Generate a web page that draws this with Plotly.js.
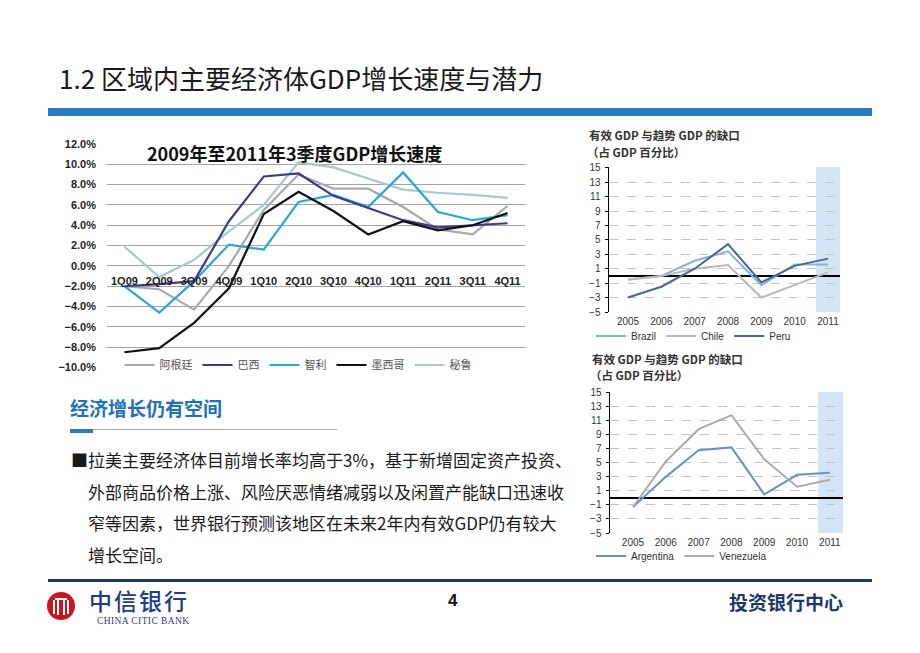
<!DOCTYPE html>
<html><head><meta charset="utf-8">
<script src="https://cdn.plot.ly/plotly-3.0.1.min.js"></script>
<style>
body{margin:0;background:#fff;font-family:"Noto Sans CJK SC",sans-serif;}
#wrap{position:relative;width:920px;height:653px;overflow:hidden;background:#fff;}
#chart{position:absolute;left:0;top:0;width:920px;height:653px;}
.t{position:absolute;white-space:nowrap;}
.p{position:absolute;white-space:nowrap;font-size:17px;line-height:24px;color:#1a1a1a;left:71px;}
</style></head><body>
<div id="wrap">
<div class="t" style="left:59px;top:60px;font-size:26px;line-height:36px;color:#1a1a1a;">1.2 区域内主要经济体GDP增长速度与潜力</div>
<div style="position:absolute;left:48px;top:108px;width:824px;height:8px;background:#2a7ac6;"></div>
<div class="t" style="left:70px;top:396px;font-size:19px;line-height:24px;font-weight:bold;color:#2070c0;">经济增长仍有空间</div>
<div style="position:absolute;left:70px;top:429px;width:267px;height:1px;background:#a8a8a8;"></div>
<div style="position:absolute;left:70px;top:429px;width:23px;height:4px;background:#2a7ac6;"></div>
<div class="p" style="top:448px;">■拉美主要经济体目前增长率均高于3%，基于新增固定资产投资、</div>
<div class="p" style="top:480px;left:88px;">外部商品价格上涨、风险厌恶情绪减弱以及闲置产能缺口迅速收</div>
<div class="p" style="top:511px;left:88px;">窄等因素，世界银行预测该地区在未来2年内有效GDP仍有较大</div>
<div class="p" style="top:543px;left:88px;">增长空间。</div>
<div style="position:absolute;left:48px;top:579px;width:824px;height:3px;background:#1f3866;"></div>
<svg style="position:absolute;left:47px;top:592px;" width="28" height="28" viewBox="0 0 28 28">
<circle cx="14" cy="14" r="14" fill="#c8161d"/>
<rect x="6" y="8" width="2" height="14" fill="#fff"/>
<rect x="10" y="6" width="2" height="17" fill="#fff"/>
<rect x="16" y="6" width="2" height="17" fill="#fff"/>
<rect x="20" y="8" width="2" height="14" fill="#fff"/>
<rect x="8" y="6" width="12" height="2" fill="#fff"/>
</svg>
<div class="t" style="left:89px;top:589px;font-size:23px;line-height:23px;color:#1f3c8c;font-weight:500;letter-spacing:2px;">中信银行</div>
<div class="t" style="left:97px;top:616px;font-size:9.5px;line-height:10px;color:#1f3c8c;font-family:'Liberation Serif',serif;letter-spacing:0.4px;">CHINA CITIC BANK</div>
<div class="t" style="left:448px;top:590px;font-size:17px;line-height:22px;font-weight:bold;color:#111;font-family:'Liberation Sans',sans-serif;">4</div>
<div class="t" style="left:729px;top:590px;font-size:19px;line-height:24px;font-weight:bold;color:#1b3a6b;">投资银行中心</div>
<div id="chart"></div>
</div>
<script>
// ---- main chart data ----
const quarters = ['1Q09','2Q09','3Q09','4Q09','1Q10','2Q10','3Q10','4Q10','1Q11','2Q11','3Q11','4Q11'];
const argentina = [-2.0,-2.3,-4.3,0.0,5.5,9.0,7.6,7.6,5.8,3.6,3.1,5.9];
const brazil    = [-2.0,-1.8,-1.5,4.4,8.8,9.1,6.9,5.7,4.5,3.8,4.0,4.2];
const chile     = [-2.0,-4.6,-1.5,2.1,1.6,6.3,7.0,5.8,9.2,5.3,4.5,5.0];
const mexico    = [-8.5,-8.1,-5.6,-2.2,5.1,7.3,5.4,3.1,4.4,3.5,4.0,5.2];
const peru      = [1.9,-1.1,0.6,3.4,6.0,10.2,9.7,8.6,7.5,7.2,7.0,6.7];
const mainNames = ['阿根廷','巴西','智利','墨西哥','秘鲁'];
const mainTitle = '2009年至2011年3季度GDP增长速度';

// ---- output gap charts data ----
const years = [2005,2006,2007,2008,2009,2010,2011];
const gapBrazil    = [-0.5,0.0,2.1,3.4,-1.3,1.6,1.6];
const gapChile     = [-0.5,0.0,1.0,1.5,-3.0,-1.3,0.5];
const gapPeru      = [-3.0,-1.5,1.0,4.4,-0.9,1.4,2.4];
const gapArgentina = [-1.3,3.0,6.8,7.2,0.5,3.3,3.6];
const gapVenezuela = [-1.3,5.2,9.8,11.8,5.5,1.6,2.6];
const gapNames1 = ['Brazil','Chile','Peru'];
const gapNames2 = ['Argentina','Venezuela'];
const gapTitle1 = '有效 GDP 与趋势 GDP 的缺口';
const gapTitle2 = '（占 GDP 百分比）';

const W = 920, H = 653;
const fx = p => p / W;
const fy = p => 1 - p / H;

// main plot geometry
const mainY = [-10, 12];
const mainDomY = [fy(368), fy(143.5)];
const zeroPos = mainDomY[0] + (0 - mainY[0]) / (mainY[1] - mainY[0]) * (mainDomY[1] - mainDomY[0]);

const cjk = '"Noto Sans CJK SC", sans-serif';
const arial = '"Liberation Sans", "Noto Sans CJK SC", sans-serif';

const mainSeries = [argentina, brazil, chile, mexico, peru];
const mainColors = ['#a9a9a9', '#3d3a8c', '#28a6de', '#111111', '#a6c9d2'];
const traces = mainSeries.map((v, i) => ({
  type: 'scatter', mode: 'lines', x: quarters, y: v, name: mainNames[i],
  xaxis: 'x', yaxis: 'y', legend: 'legend', legendrank: i + 1,
  line: {color: mainColors[i], width: 2.2}
}));
// draw the light series first so darker ones sit on top
const order = [4, 0, 2, 1, 3];
const mainTraces = order.map(i => traces[i]);

const g1 = [gapBrazil, gapChile, gapPeru];
const g1c = ['#8eb0d8', '#b9b9b9', '#41699f'];
const t2 = g1.map((v, i) => ({
  type: 'scatter', mode: 'lines', x: years, y: v, name: gapNames1[i],
  xaxis: 'x2', yaxis: 'y2', legend: 'legend2', line: {color: g1c[i], width: 2}
}));
const g2 = [gapArgentina, gapVenezuela];
const g2c = ['#6a92c3', '#ababab'];
const t3 = g2.map((v, i) => ({
  type: 'scatter', mode: 'lines', x: years, y: v, name: gapNames2[i],
  xaxis: 'x3', yaxis: 'y3', legend: 'legend3', line: {color: g2c[i], width: 2}
}));

function gapY(domain) {
  return {
    domain: domain, range: [-5, 15.1], tick0: -5, dtick: 2,
    showline: true, linecolor: '#000', linewidth: 1.5,
    ticks: 'outside', ticklen: 3, tickcolor: '#000', tickwidth: 1,
    showgrid: true, gridcolor: '#c4c4c4', griddash: 'dash', gridwidth: 1,
    zeroline: true, zerolinecolor: '#000', zerolinewidth: 2.2,
    tickfont: {family: arial, size: 10, color: '#333'}, ticklabelstandoff: 2
  };
}
function gapX(domain, range, anchor) {
  return {
    domain: domain, range: range, anchor: anchor, tickvals: years,
    showgrid: false, zeroline: false, showline: false, ticks: '',
    tickfont: {family: arial, size: 10, color: '#333'}, ticklabelstandoff: 2
  };
}

const layout = {
  width: W, height: H, margin: {l: 0, r: 0, t: 0, b: 0},
  paper_bgcolor: 'rgba(0,0,0,0)', plot_bgcolor: 'rgba(0,0,0,0)',
  showlegend: true,
  xaxis: {
    domain: [fx(107), fx(525)], type: 'category', range: [-0.5, 11.5],
    anchor: 'free', position: zeroPos, showgrid: false, zeroline: false,
    showline: false, ticks: '', ticklabelstandoff: 7,
    tickfont: {family: arial, size: 11, color: '#222', weight: 'bold'}
  },
  yaxis: {
    domain: mainDomY, range: [mainY[0] - 0.05, mainY[1] + 0.05], tick0: 0, dtick: 2,
    ticksuffix: '%', tickformat: '.1f', showgrid: true, gridcolor: '#a3a3a3', gridwidth: 1,
    zeroline: false, showline: false, ticks: '', ticklabelstandoff: 10,
    tickfont: {family: arial, size: 11, color: '#222', weight: 'bold'}
  },
  xaxis2: gapX([fx(609), fx(840)], [2004.43, 2011.36], 'y2'),
  yaxis2: Object.assign(gapY([fy(312), fy(167)]), {anchor: 'x2'}),
  xaxis3: gapX([fx(610), fx(843)], [2004.3, 2011.4], 'y3'),
  yaxis3: Object.assign(gapY([fy(533), fy(392)]), {anchor: 'x3'}),
  legend: {
    orientation: 'h', x: fx(298), xanchor: 'center', y: fy(365), yanchor: 'middle',
    bgcolor: 'rgba(0,0,0,0)', font: {family: cjk, size: 11, color: '#555'},
    traceorder: 'normal', itemwidth: 30
  },
  legend2: {
    orientation: 'h', x: fx(591), xanchor: 'left', y: fy(336), yanchor: 'middle',
    bgcolor: 'rgba(0,0,0,0)', font: {family: arial, size: 10, color: '#333'}, itemwidth: 30
  },
  legend3: {
    orientation: 'h', x: fx(591), xanchor: 'left', y: fy(556), yanchor: 'middle',
    bgcolor: 'rgba(0,0,0,0)', font: {family: arial, size: 10, color: '#333'}, itemwidth: 30
  },
  shapes: [
    {type: 'rect', layer: 'below', xref: 'x2', yref: 'y2 domain', x0: 2010.64, x1: 2011.36, y0: 0, y1: 1,
     fillcolor: 'rgba(196,220,242,0.75)', line: {width: 0}},
    {type: 'rect', layer: 'below', xref: 'x3', yref: 'y3 domain', x0: 2010.64, x1: 2011.4, y0: 0, y1: 1,
     fillcolor: 'rgba(196,220,242,0.75)', line: {width: 0}}
  ],
  annotations: [
    {text: mainTitle, xref: 'paper', yref: 'paper', x: fx(294), y: fy(153), xanchor: 'center', yanchor: 'middle',
     showarrow: false, font: {family: cjk, size: 18, color: '#111', weight: 'bold'}},
    {text: gapTitle1, xref: 'paper', yref: 'paper', x: fx(587), y: fy(135), xanchor: 'left', yanchor: 'middle',
     showarrow: false, font: {family: cjk, size: 11.5, color: '#333', weight: 'bold'}},
    {text: gapTitle2, xref: 'paper', yref: 'paper', x: fx(585), y: fy(152), xanchor: 'left', yanchor: 'middle',
     showarrow: false, font: {family: cjk, size: 11.5, color: '#333', weight: 'bold'}},
    {text: gapTitle1, xref: 'paper', yref: 'paper', x: fx(590), y: fy(359), xanchor: 'left', yanchor: 'middle',
     showarrow: false, font: {family: cjk, size: 11.5, color: '#333', weight: 'bold'}},
    {text: gapTitle2, xref: 'paper', yref: 'paper', x: fx(588), y: fy(375), xanchor: 'left', yanchor: 'middle',
     showarrow: false, font: {family: cjk, size: 11.5, color: '#333', weight: 'bold'}}
  ]
};

Plotly.newPlot('chart', mainTraces.concat(t2, t3), layout, {staticPlot: true, displayModeBar: false});
</script>
</body></html>
